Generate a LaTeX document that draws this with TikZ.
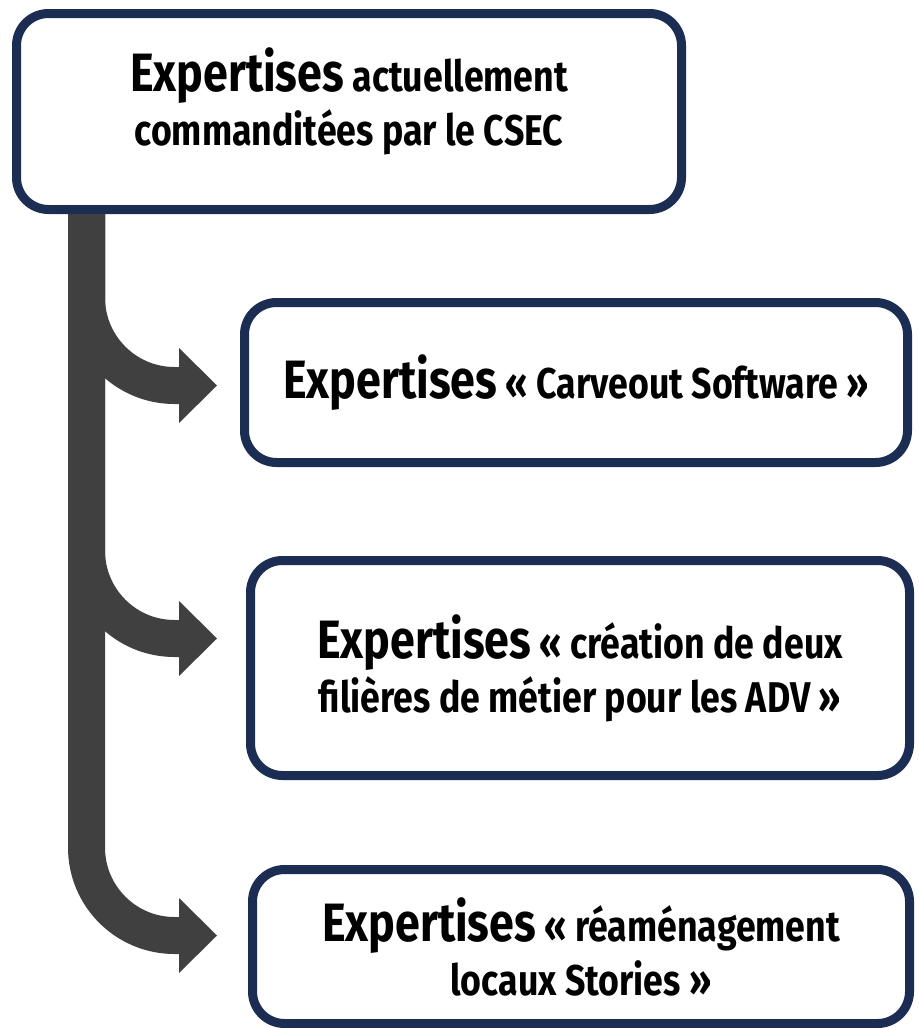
\documentclass[tikz,border=0pt]{standalone}
\usepackage{fontspec}
\setmainfont{Fira Sans}[FakeStretch=0.83]
\usetikzlibrary{arrows.meta}

\definecolor{panelnavy}{RGB}{27,45,82}
\definecolor{branchgray}{RGB}{64,64,64}

\newcommand{\leadword}[1]{{\fontsize{27}{27}\selectfont #1}}

\begin{document}
\begin{tikzpicture}[
        x=0.5pt, y=-0.5pt,
        panel/.style={rectangle, draw=panelnavy, line width=4.5pt, rounded corners=16pt, fill=white, align=center, inner sep=0pt, font=\bfseries\fontsize{21.5}{27}\selectfont},
        branch/.style={draw=branchgray, line width=18.5pt, rounded corners=44pt, -{Triangle[length=19pt, width=37.5pt, line width=0pt]}}
    ]
        \useasboundingbox (0,0) rectangle (918,1028);

        % Boxes
        \node[panel, minimum width=332.5pt, minimum height=98pt] (csec) at (349,111.5) {\leadword{Expertises} actuellement\\commanditées par le CSEC\rule[-15pt]{0pt}{0pt}};
        \node[panel, minimum width=331.5pt, minimum height=80pt] (carveout) at (576,382.5) {\leadword{Expertises} « Carveout Software »};
        \node[panel, minimum width=329.5pt, minimum height=107.5pt] (filieres) at (580,668) {\leadword{Expertises} « création de deux\\filières de métier pour les ADV »};
        \node[panel, minimum width=328.5pt, minimum height=77pt] (stories) at (581,946.5) {\leadword{Expertises} « réaménagement\\locaux Stories »};

        % Branch tips
        \coordinate (trunk_top) at (86.5,214);
        \coordinate (carveout_tip) at (217,385.5);
        \coordinate (filieres_tip) at (217,638.5);
        \coordinate (stories_tip) at (217,935.5);

        % Branches
        \draw[branch] (trunk_top) |- (carveout_tip);
        \draw[branch] (trunk_top) |- (filieres_tip);
        \draw[branch] (trunk_top) |- (stories_tip);

    \end{tikzpicture}
\end{document}
